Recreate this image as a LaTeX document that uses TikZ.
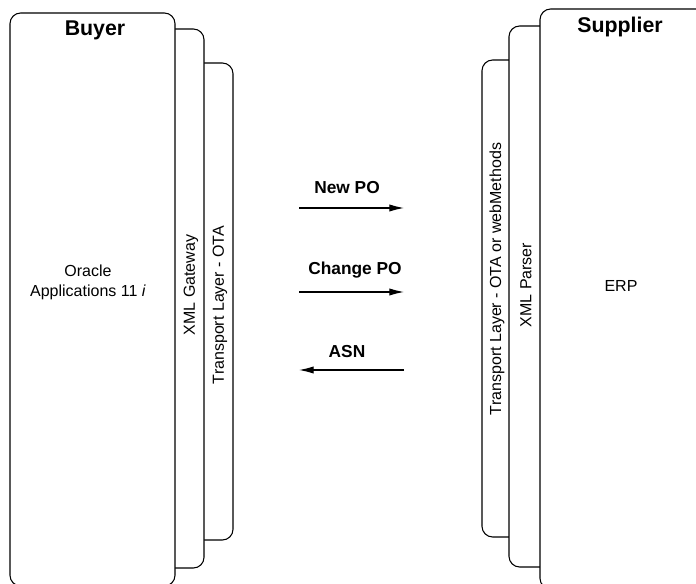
\documentclass[tikz,border=0pt]{standalone}
\usepackage{fontspec}
\setmainfont{Liberation Sans}
\usepackage{tikz}
\usetikzlibrary{arrows.meta, positioning}

\tikzset{
    layer/.style={draw, fill=white, line width=0.8pt, rounded corners=8pt},
    title/.style={font=\fontsize{16}{19}\selectfont\bfseries},
    msg/.style={font=\fontsize{13}{16}\selectfont\bfseries},
    txt/.style={font=\fontsize{12}{15}\selectfont, align=center},
    flow/.style={line width=0.8pt, -{Latex[length=11pt, width=5.5pt]}}
}

\begin{document}
\begin{tikzpicture}[x=0.75pt, y=-0.75pt]
                        \path[use as bounding box, clip] (0, 0) rectangle (696, 584);
                        % buyer side
                        \draw[layer] (150, 63) rectangle (233, 540);
                        \draw[layer] (150, 29) rectangle (204, 568);
                        \draw[layer] (10, 13) rectangle (175, 586);
                        % supplier side
                        \draw[layer] (482, 60) rectangle (560, 537);
                        \draw[layer] (509, 26) rectangle (560, 567);
                        \draw[layer] (540, 9) rectangle (708, 589);
                        \node[title] (buyer) at (95, 30) {Buyer};
                        \node[title] (supplier) at (620, 27) {Supplier};
                        \node[txt] (oracle) at (88, 282) {Oracle\\Applications 11 \textit{i}};
                        \node[txt, rotate=90] (gateway) at (191, 285) {XML Gateway};
                        \node[txt, rotate=90] (buyerota) at (220, 305) {Transport Layer - OTA};
                        \node[txt, rotate=90] (supplierota) at (497, 279) {Transport Layer - OTA or webMethods};
                        \node[txt, rotate=90] (parser) at (526, 285) {XML Parser};
                        \node[txt] (erp) at (621, 286) {ERP};
                        % messages
                        \node[msg] (newpo) at (347, 188) {New PO};
                        \node[msg] (changepo) at (355, 270) {Change PO};
                        \node[msg] (asn) at (347, 352) {ASN};
                        \coordinate (newpoA) at (299, 208);
                        \coordinate (newpoB) at (404, 208);
                        \coordinate (changepoA) at (299, 292);
                        \coordinate (changepoB) at (404, 292);
                        \coordinate (asnA) at (404, 370);
                        \coordinate (asnB) at (299, 370);
                        \draw[flow] (newpoA) -- (newpoB);
                        \draw[flow] (changepoA) -- (changepoB);
                        \draw[flow] (asnA) -- (asnB);
                    \end{tikzpicture}
\end{document}
